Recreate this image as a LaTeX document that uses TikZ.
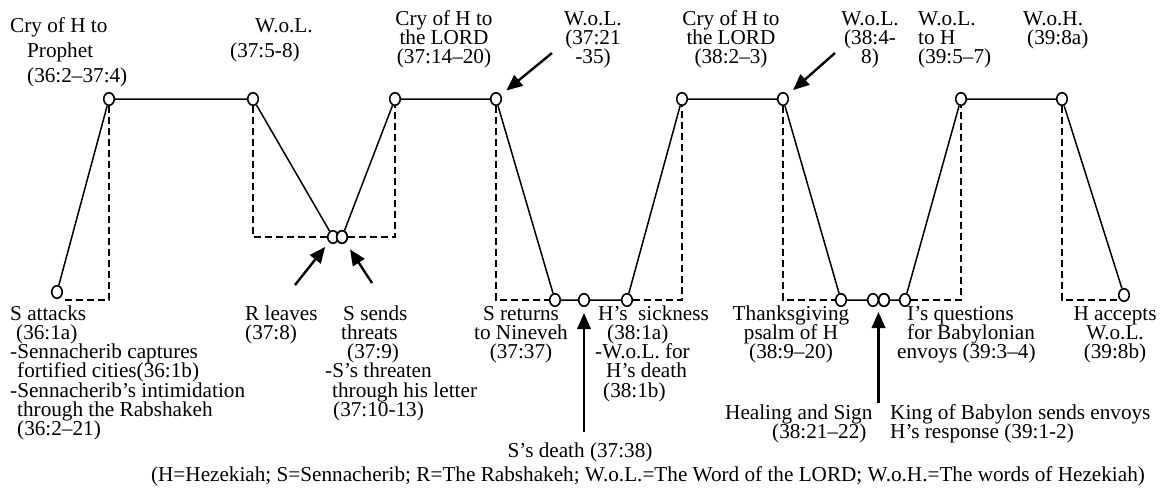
\documentclass[tikz,border=0pt]{standalone}
\usepackage{fontspec}
\setmainfont{Liberation Serif}
\usetikzlibrary{arrows.meta,shapes.geometric}
\newcommand\mytightlines{\lineskiplimit=-50pt\relax}
\begin{document}
\begin{tikzpicture}[x=1pt,y=-1pt,
  pt/.style={ellipse,draw,fill=white,line width=1.6pt,minimum width=10.5pt,minimum height=12.5pt,inner sep=0pt},
  ln/.style={line width=1.5pt},
  dl/.style={line width=1.4pt,dash pattern=on 7pt off 4pt},
  ar/.style={line width=2.4pt,-{Triangle[length=16pt,width=13.5pt]}},
  lbl/.style={inner sep=0pt,font={\fontsize{21.2}{19.3}\selectfont\mytightlines},anchor=base west,align=left},
  lblc/.style={lbl,anchor=base,align=center},
  lblw/.style={lbl,font={\fontsize{21.2}{25}\selectfont\mytightlines}}
]
\useasboundingbox (0,0) rectangle (1168,488);
% points
\node[pt] (sa)   at (57,292) {};
\node[pt] (top1) at (109,99) {};
\node[pt] (wol1) at (253,99) {};
\node[pt] (rl)   at (333,237) {};
\node[pt] (ss)   at (342,237) {};
\node[pt] (cry1) at (395,99) {};
\node[pt] (wol2) at (496,99) {};
\node[pt] (sr)   at (555,300) {};
\node[pt] (sd)   at (584,300) {};
\node[pt] (hs)   at (627,300) {};
\node[pt] (cry2) at (682,99) {};
\node[pt] (wol3) at (783,99) {};
\node[pt] (th)   at (841,300) {};
\node[pt] (h1)   at (873,300) {};
\node[pt] (h2)   at (884,300) {};
\node[pt] (iq)   at (905,300) {};
\node[pt] (wolh) at (961,99) {};
\node[pt] (woh)  at (1062,99) {};
\node[pt] (ha)   at (1124,295) {};
\coordinate (sab) at (64,300);
\coordinate (hab) at (1118,300);
% dashed guides
\draw[dl] (top1.south) -- (top1 |- sab) -- (sab);
\draw[dl] (wol1.south) |- (rl.west);
\draw[dl] (ss.east) -| (cry1.south);
\draw[dl] (wol2.south) |- (sr.west);
\draw[dl] (hs.east) -| (cry2.south);
\draw[dl] (wol3.south) |- (th.west);
\draw[dl] (iq.east) -| (wolh.south);
\draw[dl] (woh.south) |- (hab);
% solid plot
\draw[ln] (sa) -- (top1) -- (wol1) -- (rl);
\draw[ln] (ss) -- (cry1) -- (wol2) -- (sr) -- (sd) -- (hs) -- (cry2) -- (wol3) -- (th) -- (h1);
\draw[ln] (h2) -- (iq) -- (wolh) -- (woh) -- (ha);
% redraw overlapping points on top
\node[pt] at (ss) {};
\node[pt] at (h2) {};
% arrows
\coordinate (t1) at (295,285);
\coordinate (t2) at (372,283);
\coordinate (t3) at (552,53);
\coordinate (t4) at (835,53);
\coordinate (t5) at (584,432);
\coordinate (hm) at (878.5,300);
\coordinate (t6) at (878.5,403);
\draw[ar,shorten >=6pt] (t1) -- (rl);
\draw[ar,shorten >=8pt] (t2) -- (ss);
\draw[ar,shorten >=7pt] (t3) -- (wol2);
\draw[ar,shorten >=7pt] (t4) -- (wol3);
\draw[ar,shorten >=6pt] (t5) -- (sd);
\draw[ar,shorten >=12pt] (t6) -- (hm);
% top labels (positioned at the baseline of their last line)
\node[lblw] (L1) at (10,82) {Cry of H to\\\hspace*{17pt}Prophet\\\hspace*{17pt}(36:2–37:4)};
\node[lblw] (L2) at (230,57) {\hspace*{25pt}W.o.L.\\(37:5-8)};
\node[lblc] (L3) at (444,63.6) {Cry of H to\\the LORD\\(37:14–20)};
\node[lblc] (L4) at (593,63.6) {W.o.L.\\(37:21\\-35)};
\node[lblc] (L5) at (731,63.6) {Cry of H to\\the LORD\\(38:2–3)};
\node[lblc] (L6) at (870,63.6) {W.o.L.\\(38:4-\\8)};
\node[lbl]  (L7) at (918,63.6) {W.o.L.\\to H\\(39:5–7)};
\node[lbl]  (L8) at (1023,44.3) {W.o.H.\\\hspace*{4pt}(39:8a)};
% bottom labels
\node[lbl] (B1) at (10,435.8) {S attacks\\\hspace*{6pt}(36:1a)\\-Sennacherib captures\\\hspace*{7pt}fortified cities(36:1b)\\-Sennacherib’s intimidation\\\hspace*{7pt}through the Rabshakeh\\\hspace*{7pt}(36:2–21)};
\node[lbl] (B2) at (245,339.3) {R leaves\\(37:8)};
\node[lbl] (B3) at (325,416.5) {\hspace*{18pt}S sends\\\hspace*{16pt}threats\\\hspace*{22pt}(37:9)\\-S’s threaten\\\hspace*{7pt}through his letter\\\hspace*{8pt}(37:10-13)};
\node[lblc] (B4) at (521,358.6) {S returns\\to Nineveh\\(37:37)};
\node[lbl] (B5) at (595,397.2) {\hspace*{3pt}H’s\ \ sickness\\\hspace*{12pt}(38:1a)\\-W.o.L. for\\\hspace*{11pt}H’s death\\\hspace*{8pt}(38:1b)};
\node[lblc] (B6) at (791,358.6) {Thanksgiving\\psalm of H\\(38:9–20)};
\node[lbl] (B7) at (897,358.6) {\hspace*{10pt}I’s questions\\\hspace*{10pt}for Babylonian\\envoys (39:3–4)};
\node[lblc] (B8) at (1115,358.6) {H accepts\\W.o.L.\\(39:8b)};
\node[lbl] (B9) at (725,438.3) {Healing and Sign\\\hspace*{47pt}(38:21–22)};
\node[lbl] (B10) at (890,438.3) {King of Babylon sends envoys\\H’s response (39:1-2)};
\node[lblc] (B11) at (580,457) {S’s death (37:38)};
\node[lblc] (cap) at (648,481) {(H=Hezekiah; S=Sennacherib; R=The Rabshakeh; W.o.L.=The Word of the LORD; W.o.H.=The words of Hezekiah)};
\end{tikzpicture}
\end{document}
